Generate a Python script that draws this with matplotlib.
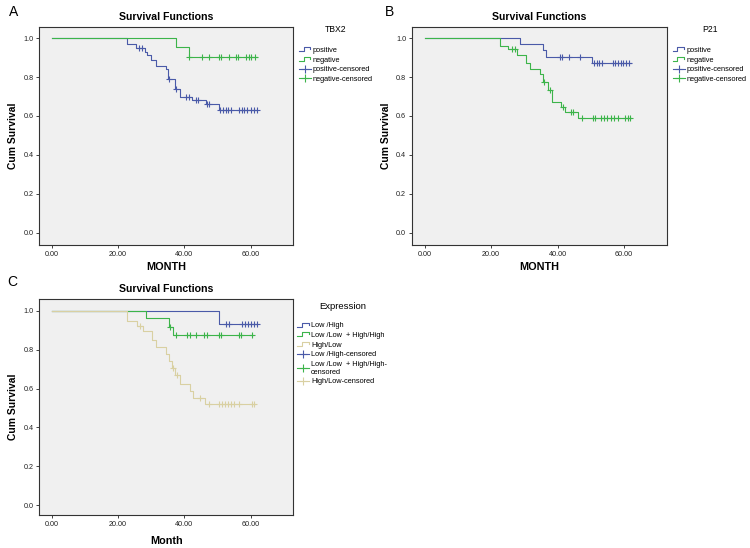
import numpy as np
import matplotlib.pyplot as plt
from matplotlib.lines import Line2D
from matplotlib.legend_handler import HandlerBase

plt.rcParams['font.family'] = ['Liberation Sans', 'DejaVu Sans']

# ---- panel A : TBX2 ----
a_pos_t = [22.6, 25.4, 28.0, 28.8, 30.0, 31.5, 34.6, 35.1, 37.1, 38.6, 42.3, 46.4, 50.4]
a_pos_s = [0.968, 0.950, 0.928, 0.911, 0.887, 0.856, 0.839, 0.788, 0.740, 0.699, 0.680, 0.660, 0.633]
a_pos_c = [26.4, 27.2, 35.5, 37.6, 40.6, 41.3, 43.4, 44.1, 46.8, 47.5, 50.9, 51.7, 52.5, 53.3,
           54.1, 56.5, 57.3, 58.1, 59.0, 60.0, 61.0, 61.8]
a_neg_t = [37.5, 41.5]
a_neg_s = [0.952, 0.901]
a_neg_c = [41.5, 45.4, 47.4, 50.4, 51.1, 53.4, 55.5, 56.2, 58.5, 59.5, 60.2, 61.2]

# ---- panel B : P21 ----
b_pos_t = [28.6, 35.7, 36.6, 50.4]
b_pos_s = [0.970, 0.937, 0.905, 0.870]
b_pos_c = [40.6, 41.4, 43.6, 46.7, 51.0, 51.8, 52.5, 53.4, 56.6, 57.4, 58.2, 59.0, 59.8, 60.7, 61.6]
b_neg_t = [22.7, 25.2, 27.8, 30.5, 31.8, 34.8, 35.6, 37.1, 38.4, 41.0, 42.4, 46.3]
b_neg_s = [0.962, 0.943, 0.912, 0.870, 0.840, 0.816, 0.772, 0.734, 0.672, 0.648, 0.619, 0.588]
b_neg_c = [26.4, 27.2, 35.8, 37.8, 41.6, 44.0, 44.8, 47.3, 50.6, 51.3, 53.2, 54.0, 55.0, 56.0,
           57.0, 58.2, 60.4, 61.3, 61.8]

# ---- panel C : Expression ----
c_lh_t = [50.4]
c_lh_s = [0.930]
c_lh_c = [52.7, 53.5, 57.5, 58.3, 59.2, 60.0, 61.0, 61.8]
c_ll_t = [28.4, 35.5, 36.5]
c_ll_s = [0.961, 0.918, 0.875]
c_ll_c = [35.6, 37.4, 40.8, 41.6, 43.6, 45.9, 46.7, 50.4, 51.1, 56.5, 57.2, 60.5]
c_hl_t = [22.6, 25.6, 27.6, 30.3, 31.5, 34.5, 35.5, 36.3, 37.3, 38.7, 41.6, 42.6, 46.3]
c_hl_s = [0.948, 0.923, 0.895, 0.852, 0.815, 0.778, 0.742, 0.707, 0.672, 0.623, 0.590, 0.552, 0.523]
c_hl_c = [26.7, 36.6, 37.8, 44.7, 47.6, 50.6, 51.5, 52.4, 53.3, 54.2, 55.1, 56.4, 60.5, 61.0]

xticks = [0, 20, 40, 60]
xticklabels = ['0.00', '20.00', '40.00', '60.00']
yticks = [0.0, 0.2, 0.4, 0.6, 0.8, 1.0]

BLUE = '#4a5aa8'
GREEN = '#3cb44a'
BEIGE = '#d9d0a2'


class StepHandler(HandlerBase):
    def create_artists(self, legend, orig_handle, xdescent, ydescent,
                       width, height, fontsize, trans):
        xs = np.array([0, 0.4, 0.4, 0.95, 0.95]) * width - xdescent
        ys = np.array([0.15, 0.15, 0.9, 0.9, 0.55]) * height - ydescent
        return [Line2D(xs, ys, color=orig_handle.get_color(), lw=0.8, transform=trans)]


def km(ax, t, s, c, end, color):
    x = np.r_[0, t, end]
    y = np.r_[1, s, s[-1]]
    ax.step(x, y, where='post', color=color, lw=0.8)
    lev = np.r_[1, s][np.searchsorted(t, c, side='right')]
    ax.plot(c, lev, '+', color=color, ms=4.5, mew=0.8, ls='none')


def style(ax, xlabel, ylim_top=1.058, ylim_bot=-0.063):
    ax.set_facecolor('#f0f0f0')
    ax.set_xlim(-3.9, 72.9)
    ax.set_ylim(ylim_bot, ylim_top)
    ax.set_xticks(xticks)
    ax.set_xticklabels(xticklabels)
    ax.set_yticks(yticks)
    ax.set_yticklabels(['%.1f' % v for v in yticks])
    ax.tick_params(labelsize=5.2, length=2.5, width=0.6, pad=1.5, colors='#222222')
    for sp in ax.spines.values():
        sp.set_linewidth(0.8)
        sp.set_color('#333333')
    ax.set_title('Survival Functions', fontsize=7.6, fontweight='bold', pad=5)
    ax.set_xlabel(xlabel, fontsize=7.8, fontweight='bold', labelpad=3)
    ax.set_ylabel('Cum Survival', fontsize=7.4, fontweight='bold', labelpad=4)


def legend(ax, title, labels, colors, anchor=(1.012, 1.02), tsize=6.2, sep=9):
    handles, hmap = [], {}
    for col in colors:
        h = Line2D([], [], color=col)
        handles.append(h)
        hmap[h] = StepHandler()
    for col in colors:
        handles.append(Line2D([], [], color=col, marker='+', ms=6, mew=0.8, lw=0.8))
    leg = ax.legend(handles, labels, handler_map=hmap, title=title, loc='upper left',
                    bbox_to_anchor=anchor, frameon=False, fontsize=5.3,
                    title_fontsize=tsize, handlelength=1.6, handletextpad=0.25,
                    labelspacing=0.33, borderaxespad=0, numpoints=1)
    leg._legend_box.sep = sep


fig = plt.figure(figsize=(7.5, 5.48), dpi=100)
axA = fig.add_axes([0.052, 0.553, 0.339, 0.398])
axB = fig.add_axes([0.549, 0.553, 0.340, 0.398])
axC = fig.add_axes([0.052, 0.060, 0.339, 0.394])

km(axA, a_pos_t, a_pos_s, a_pos_c, 62.0, BLUE)
km(axA, a_neg_t, a_neg_s, a_neg_c, 62.0, GREEN)
style(axA, 'MONTH')
legend(axA, 'TBX2', ['positive', 'negative', 'positive-censored', 'negative-censored'],
       [BLUE, GREEN])

km(axB, b_pos_t, b_pos_s, b_pos_c, 62.0, BLUE)
km(axB, b_neg_t, b_neg_s, b_neg_c, 62.0, GREEN)
style(axB, 'MONTH')
legend(axB, 'P21', ['positive', 'negative', 'positive-censored', 'negative-censored'],
       [BLUE, GREEN])

km(axC, c_lh_t, c_lh_s, c_lh_c, 62.0, BLUE)
km(axC, c_ll_t, c_ll_s, c_ll_c, 60.8, GREEN)
km(axC, c_hl_t, c_hl_s, c_hl_c, 61.3, BEIGE)
style(axC, 'Month', ylim_top=1.06, ylim_bot=-0.051)
axC.xaxis.labelpad = 6
legend(axC, 'Expression', ['Low /High', 'Low /Low  + High/High', 'High/Low',
                           'Low /High-censored', 'Low /Low  + High/High-\ncensored',
                           'High/Low-censored'],
       [BLUE, GREEN, BEIGE], anchor=(1.005, 1.0), tsize=6.8, sep=8)

fig.text(0.012, 0.978, 'A', fontsize=10, va='center')
fig.text(0.513, 0.978, 'B', fontsize=10, va='center')
fig.text(0.010, 0.486, 'C', fontsize=10, va='center')

fig.savefig('out.png', dpi=100, facecolor='white')
